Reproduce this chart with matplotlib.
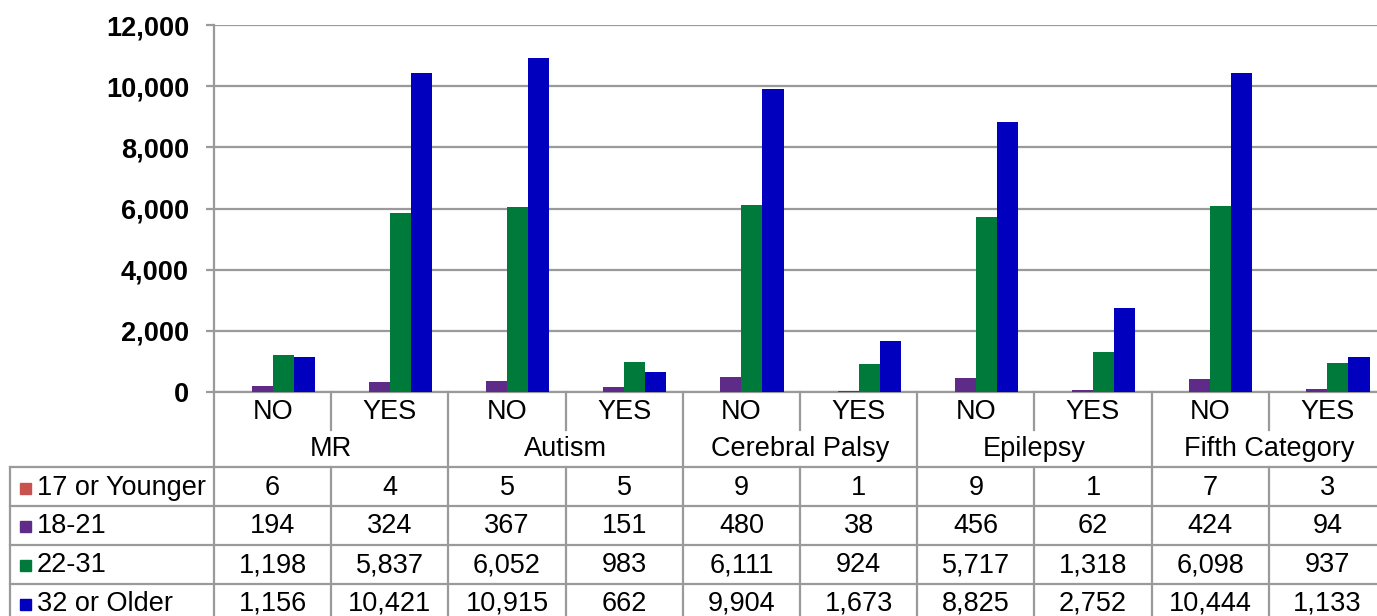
import matplotlib
matplotlib.use("Agg")
import matplotlib.pyplot as plt
import numpy as np
from matplotlib.lines import Line2D
from matplotlib.patches import Rectangle
from matplotlib.transforms import blended_transform_factory

plt.rcParams['font.family'] = ['Liberation Sans', 'DejaVu Sans']

groups = ['MR', 'Autism', 'Cerebral Palsy', 'Epilepsy', 'Fifth Category']
subcats = ['NO', 'YES', 'NO', 'YES', 'NO', 'YES', 'NO', 'YES', 'NO', 'YES']
series_names = ['17 or Younger', '18-21', '22-31', '32 or Older']
s17 = [6, 4, 5, 5, 9, 1, 9, 1, 7, 3]
s18 = [194, 324, 367, 151, 480, 38, 456, 62, 424, 94]
s22 = [1198, 5837, 6052, 983, 6111, 924, 5717, 1318, 6098, 937]
s32 = [1156, 10421, 10915, 662, 9904, 1673, 8825, 2752, 10444, 1133]
yticks = [0, 2000, 4000, 6000, 8000, 10000, 12000]
colors = ['#C8524E', '#5E2B88', '#007A3A', '#0000BE']
series = [s17, s18, s22, s32]

FS = 19.5
W, H = 1377, 616
fig = plt.figure(figsize=(W / 100, H / 100), dpi=100)
x0, x1 = 214, 1386
y0, y1 = 392, 25
ax = fig.add_axes([x0 / W, (H - y0) / H, (x1 - x0) / W, (y0 - y1) / H])

n = len(subcats)
x = np.arange(n)
bw = 0.18
for i, (vals, c) in enumerate(zip(series, colors)):
    ax.bar(x + (i - 1.5) * bw, vals, width=bw, color=c, zorder=3)

ax.set_xlim(-0.5, n - 0.5)
ax.set_ylim(0, 12000)
ax.set_yticks(yticks)
ax.set_yticklabels([f'{v:,}' for v in yticks], fontsize=FS, fontweight='bold')
ax.set_xticks([])
ax.yaxis.grid(True, color='#9A9A9A', linewidth=1.6, zorder=0)
ax.tick_params(axis='y', length=6, width=1.6, color='#9A9A9A', pad=12)
for s in ['top', 'right']:
    ax.spines[s].set_visible(False)
ax.spines['left'].set_color('#9A9A9A')
ax.spines['left'].set_linewidth(1.6)
ax.spines['bottom'].set_color('#9A9A9A')
ax.spines['bottom'].set_linewidth(1.6)

tr = blended_transform_factory(ax.transData, fig.transFigure)
def fy(py):
    return (H - py) / H
def fx(px):
    return px / W

lc = '#9A9A9A'
lw = 1.6
fig.add_artist(Line2D([fx(x0), fx(x0)], [fy(392), fy(640)], color=lc, lw=lw))
for j in range(1, n):
    xs = j - 0.5
    if j % 2 == 0:
        fig.add_artist(Line2D([xs, xs], [fy(392), fy(640)], color=lc, lw=lw, transform=tr))
    else:
        fig.add_artist(Line2D([xs, xs], [fy(392), fy(430)], color=lc, lw=lw, transform=tr))
        fig.add_artist(Line2D([xs, xs], [fy(467), fy(640)], color=lc, lw=lw, transform=tr))
row_edges = [467, 506, 545, 584]
for ry in row_edges:
    fig.add_artist(Line2D([fx(10), 1], [fy(ry), fy(ry)], color=lc, lw=lw))
fig.add_artist(Line2D([fx(10), fx(10)], [fy(467), fy(640)], color=lc, lw=lw))

for j, lab in enumerate(subcats):
    fig.text(j, fy(412), lab, transform=tr, ha='center', va='center', fontsize=FS)
for g, lab in enumerate(groups):
    fig.text(2 * g + 0.5, fy(449), lab, transform=tr, ha='center', va='center', fontsize=FS)

row_centers = [488, 526, 565, 604]
for r, (name, vals, c) in enumerate(zip(series_names, series, colors)):
    yc = row_centers[r]
    fig.add_artist(Rectangle((fx(20), fy(yc + 6)), 11 / W, 11 / H, color=c,
                             transform=fig.transFigure))
    fig.text(fx(37), fy(yc), name, ha='left', va='center', fontsize=FS)
    for j, v in enumerate(vals):
        fig.text(j, fy(yc), f'{v:,}', transform=tr, ha='center', va='center', fontsize=FS)

fig.savefig('out.png', dpi=100)
